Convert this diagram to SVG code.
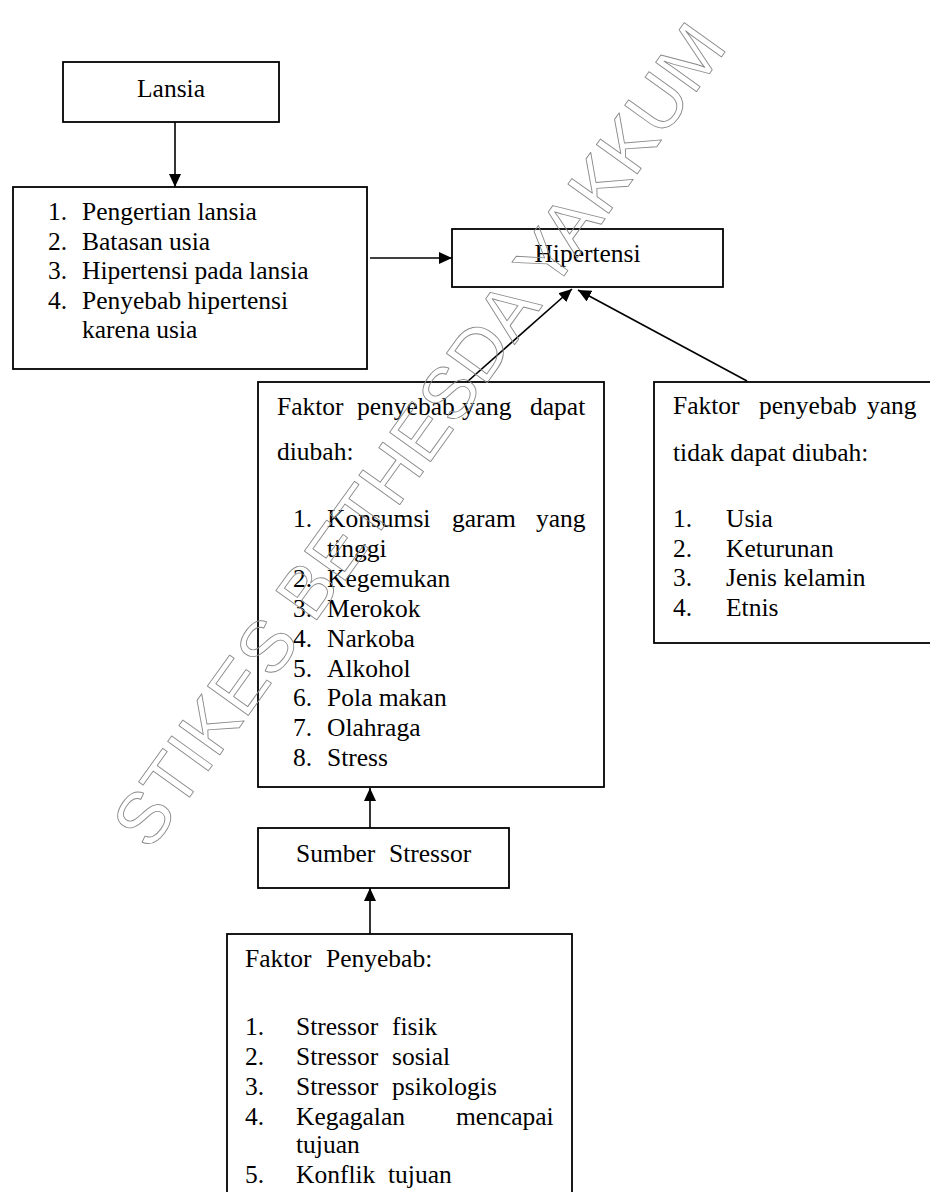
<svg xmlns="http://www.w3.org/2000/svg" width="930" height="1192" viewBox="0 0 930 1192">
<defs>
<style>
.box{fill:#fff;stroke:#000;stroke-width:1.8}
.t{font-family:"Liberation Serif","Times New Roman",serif;font-size:25.5px;fill:#000}
.c{text-anchor:middle}
.ln{stroke:#000;stroke-width:1.6;fill:none;marker-end:url(#ah)}
.wm{font-family:"Liberation Sans",Arial,sans-serif;font-size:73px;fill:none;stroke:#8a8a8a;stroke-width:0.9;stroke-linejoin:round}
</style>
<marker id="ah" markerUnits="userSpaceOnUse" markerWidth="14" markerHeight="12" refX="13" refY="6" orient="auto">
<path d="M0,0 L13,6 L0,12 Z" fill="#000"/>
</marker>
</defs>
<rect width="930" height="1192" fill="#fff"/>

<g id="lansia">
<rect class="box" x="63" y="62" width="216" height="60"/>
<text class="t c" x="171" y="97">Lansia</text>
</g>

<g id="lansia-topik">
<rect class="box" x="13" y="187" width="354" height="182"/>
<text class="t"><tspan x="48" y="220">1.</tspan><tspan x="82" y="220">Pengertian lansia</tspan>
<tspan x="48" y="250">2.</tspan><tspan x="82" y="250">Batasan usia</tspan>
<tspan x="48" y="279">3.</tspan><tspan x="82" y="279">Hipertensi pada lansia</tspan>
<tspan x="48" y="309">4.</tspan><tspan x="82" y="309">Penyebab hipertensi</tspan>
<tspan x="82" y="338">karena usia</tspan></text>
</g>

<g id="hipertensi">
<rect class="box" x="452" y="229" width="271" height="58"/>
<text class="t c" x="587.5" y="262">Hipertensi</text>
</g>

<g id="faktor-dapat-diubah">
<rect class="box" x="258" y="382" width="346" height="405"/>
<text class="t"><tspan x="277" y="415">Faktor</tspan><tspan x="357" y="415">penyebab</tspan><tspan x="462" y="415">yang</tspan><tspan x="530" y="415">dapat</tspan>
<tspan x="277" y="460">diubah:</tspan>
<tspan x="293" y="527">1.</tspan><tspan x="327" y="527">Konsumsi</tspan><tspan x="452" y="527">garam</tspan><tspan x="536" y="527">yang</tspan>
<tspan x="327" y="557">tinggi</tspan>
<tspan x="293" y="587">2.</tspan><tspan x="327" y="587">Kegemukan</tspan>
<tspan x="293" y="617">3.</tspan><tspan x="327" y="617">Merokok</tspan>
<tspan x="293" y="647">4.</tspan><tspan x="327" y="647">Narkoba</tspan>
<tspan x="293" y="677">5.</tspan><tspan x="327" y="677">Alkohol</tspan>
<tspan x="293" y="706">6.</tspan><tspan x="327" y="706">Pola makan</tspan>
<tspan x="293" y="736">7.</tspan><tspan x="327" y="736">Olahraga</tspan>
<tspan x="293" y="766">8.</tspan><tspan x="327" y="766">Stress</tspan></text>
</g>

<g id="faktor-tidak-dapat-diubah">
<rect class="box" x="654" y="382" width="300" height="261"/>
<text class="t"><tspan x="673" y="414">Faktor</tspan><tspan x="759" y="414">penyebab</tspan><tspan x="867" y="414">yang</tspan>
<tspan x="673" y="461">tidak dapat diubah:</tspan>
<tspan x="673" y="527">1.</tspan><tspan x="726" y="527">Usia</tspan>
<tspan x="673" y="557">2.</tspan><tspan x="726" y="557">Keturunan</tspan>
<tspan x="673" y="586">3.</tspan><tspan x="726" y="586">Jenis kelamin</tspan>
<tspan x="673" y="616">4.</tspan><tspan x="726" y="616">Etnis</tspan></text>
</g>

<g id="sumber-stressor">
<rect class="box" x="258" y="828" width="251" height="60"/>
<text class="t"><tspan x="296" y="862">Sumber</tspan><tspan x="389" y="862">Stressor</tspan></text>
</g>

<g id="faktor-penyebab-stressor">
<rect class="box" x="227" y="934" width="345" height="300"/>
<text class="t"><tspan x="245" y="967">Faktor</tspan><tspan x="326" y="967">Penyebab:</tspan>
<tspan x="245" y="1035">1.</tspan><tspan x="296" y="1035">Stressor</tspan><tspan x="392" y="1035">fisik</tspan>
<tspan x="245" y="1065">2.</tspan><tspan x="296" y="1065">Stressor</tspan><tspan x="392" y="1065">sosial</tspan>
<tspan x="245" y="1095">3.</tspan><tspan x="296" y="1095">Stressor</tspan><tspan x="392" y="1095">psikologis</tspan>
<tspan x="245" y="1125">4.</tspan><tspan x="296" y="1125">Kegagalan</tspan><tspan x="456" y="1125">mencapai</tspan>
<tspan x="296" y="1153">tujuan</tspan>
<tspan x="245" y="1183">5.</tspan><tspan x="296" y="1183">Konflik</tspan><tspan x="388" y="1183">tujuan</tspan></text>
</g>

<g id="connectors">
<line class="ln" x1="175" y1="122" x2="175" y2="187"/>
<line class="ln" x1="370" y1="258" x2="452" y2="258"/>
<line class="ln" x1="467" y1="382" x2="572" y2="289"/>
<line class="ln" x1="747" y1="381" x2="578" y2="290"/>
<line class="ln" x1="370" y1="828" x2="370" y2="788"/>
<line class="ln" x1="370" y1="934" x2="370" y2="888"/>
</g>

<g id="watermark">
<text class="wm" transform="translate(150,852) rotate(-54.3)" x="0" y="0">STIKES BETHESDA YAKKUM</text>
</g>
</svg>
